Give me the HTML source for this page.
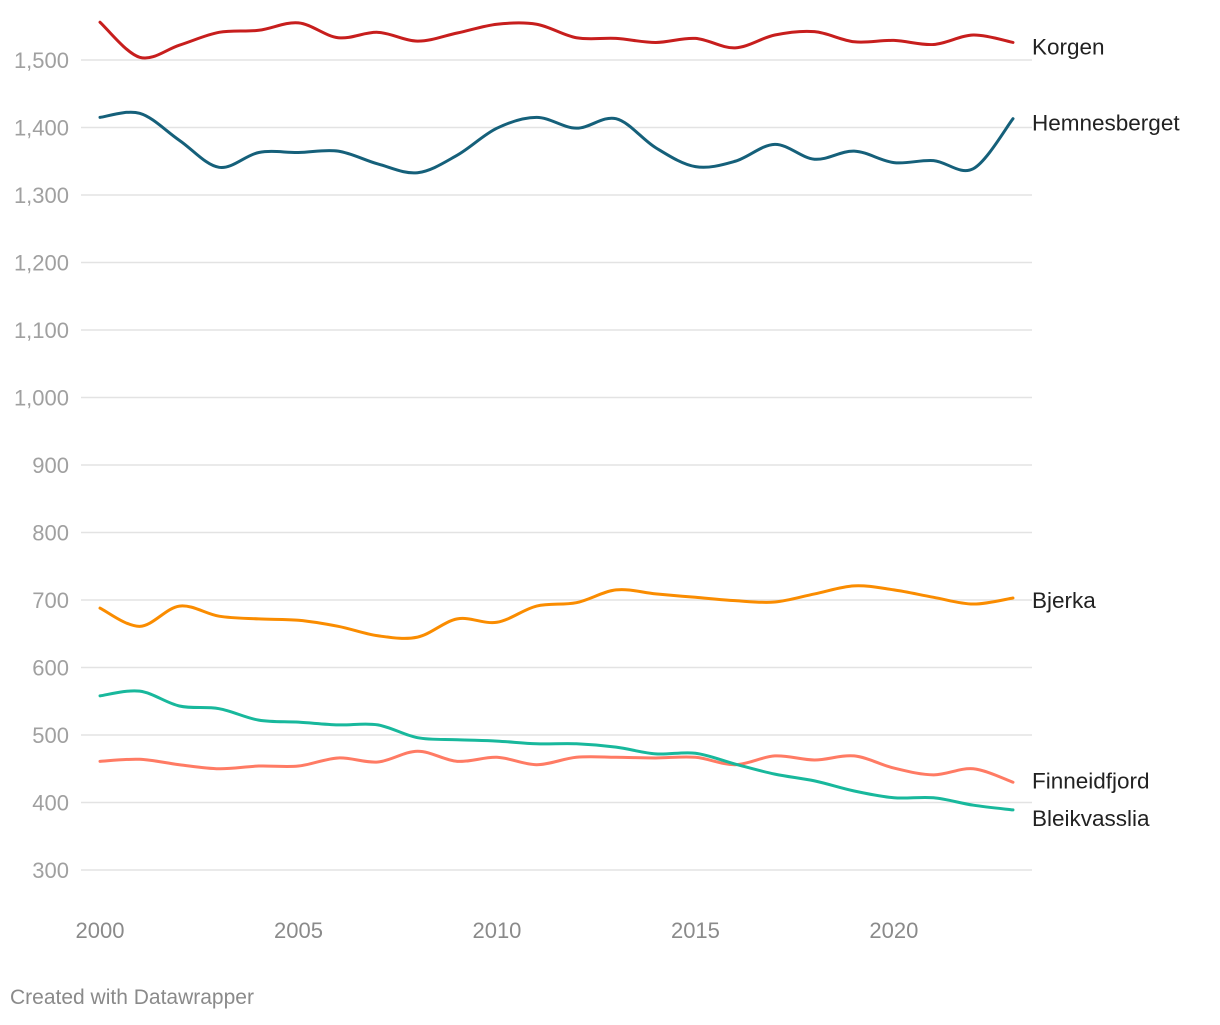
<!DOCTYPE html>
<html><head><meta charset="utf-8"><style>
body{margin:0;background:#fff;font-family:"Liberation Sans",sans-serif;}
svg text{font-family:"Liberation Sans",sans-serif;}
</style></head><body>
<svg id="chart" width="1220" height="1020" xmlns="http://www.w3.org/2000/svg">
<g id="grid"></g>
<g id="yaxis"></g>
<g id="xaxis"></g>
<g id="lines"></g>
<g id="labels"></g>
<text x="10" y="1004" font-size="21" fill="#8a8a8a">Created with Datawrapper</text>
</svg>
<script>
const years = [2000,2001,2002,2003,2004,2005,2006,2007,2008,2009,2010,2011,2012,2013,2014,2015,2016,2017,2018,2019,2020,2021,2022,2023];
const korgen = [1556,1504,1522,1541,1544,1555,1533,1541,1528,1540,1553,1553,1533,1532,1526,1532,1518,1537,1542,1527,1529,1523,1537,1526];
const hemnesberget = [1415,1421,1381,1341,1363,1363,1365,1346,1333,1359,1399,1415,1399,1413,1370,1342,1350,1375,1353,1365,1348,1351,1339,1413];
const bjerka = [688,661,691,676,672,670,661,647,645,672,667,691,696,715,709,704,699,697,709,721,715,704,694,703];
const finneidfjord = [461,464,456,450,454,454,466,460,476,461,467,456,467,467,466,467,456,469,463,469,451,441,450,430];
const bleikvasslia = [558,565,543,539,522,519,515,515,496,493,491,487,487,482,472,473,457,442,432,417,407,407,396,389];
const yTicks = [300,400,500,600,700,800,900,1000,1100,1200,1300,1400,1500];
const xTicks = [2000,2005,2010,2015,2020];
const seriesNames = ["Korgen","Hemnesberget","Bjerka","Finneidfjord","Bleikvasslia"];
const seriesData = [korgen,hemnesberget,bjerka,finneidfjord,bleikvasslia];
const seriesColors = ["#c71e1d","#15607a","#fa8c00","#ff7b64","#18b89c"];
const labelOffsets = [4,4,2,-2,8];

const NS="http://www.w3.org/2000/svg";
const x = v => 100 + (v-2000)*(913/23);
const y = v => 870 - (v-300)*0.675;
function mk(tag, attrs, parent){const e=document.createElementNS(NS,tag);for(const k in attrs)e.setAttribute(k,attrs[k]);parent.appendChild(e);return e;}
const grid=document.getElementById('grid'), ya=document.getElementById('yaxis'), xa=document.getElementById('xaxis'), lines=document.getElementById('lines'), labels=document.getElementById('labels');
yTicks.forEach(t=>{
  const l=mk('line',{x1:81,x2:1032,y1:y(t),y2:y(t),stroke:'#e3e3e3','stroke-width':1.5},grid);
  
  
  const tx=mk('text',{x:69,y:y(t)+8,'text-anchor':'end','font-size':22,fill:'#a0a0a0'},ya);
  tx.textContent=t.toLocaleString('en-US');
  
  
});
xTicks.forEach(t=>{
  const tx=mk('text',{x:x(t),y:938,'text-anchor':'middle','font-size':22,fill:'#8a8a8a'},xa);
  tx.textContent=t;
  
  
});
function smooth(pts){
  let d='M'+pts[0][0]+','+pts[0][1];
  for(let i=0;i<pts.length-1;i++){
    const p0=pts[i-1]||pts[i],p1=pts[i],p2=pts[i+1],p3=pts[i+2]||p2;
    const t=6;
    d+=' C'+(p1[0]+(p2[0]-p0[0])/t)+','+(p1[1]+(p2[1]-p0[1])/t)+' '+(p2[0]-(p3[0]-p1[0])/t)+','+(p2[1]-(p3[1]-p1[1])/t)+' '+p2[0]+','+p2[1];
  }
  return d;
}
seriesData.forEach((s,i)=>{
  const pts=years.map((yr,j)=>[x(yr),y(s[j])]);
  const p=mk('path',{d:smooth(pts),fill:'none',stroke:seriesColors[i],'stroke-width':3,'stroke-linejoin':'round','stroke-linecap':'round'},lines);
  
  
  const tx=mk('text',{x:1032,y:y(s[s.length-1])+8+labelOffsets[i],'font-size':22.5,fill:'#222'},labels);
  tx.textContent=seriesNames[i];
  
  
});
</script>
</body></html>
